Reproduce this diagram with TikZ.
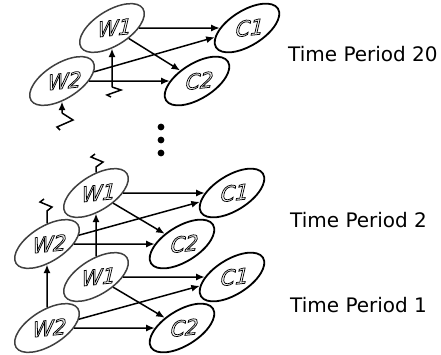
\documentclass[tikz,border=0pt]{standalone}
\usepackage{fontspec}
\setmainfont{DejaVu Sans}
\newfontfamily\varfont[FakeSlant=0.35]{DejaVu Sans}
\usetikzlibrary{shapes.geometric,arrows.meta}
% outlined (stroked) glyphs for the variable names
\newcommand\hollow[1]{\special{pdf:literal direct 1 Tr 0.75 w}#1\special{pdf:literal direct 0 Tr}}
% one tilted ellipse plus its label
\newcommand\varnode[5]{%
  \node[#1] (#2) at (#3) {};
  \node[vartext] (#2-txt) at (#2.center) {\hollow{#4}};}
\begin{document}
\begin{tikzpicture}[x=1pt,y=-1pt,
  wnode/.style={ellipse, draw=black!75, line width=1.5pt, rotate=32,
    minimum width=73pt, minimum height=35pt, inner sep=0pt},
  cnode/.style={ellipse, draw=black, line width=1.8pt, rotate=32,
    minimum width=73pt, minimum height=35pt, inner sep=0pt},
  vartext/.style={font=\varfont\fontsize{21}{21}\selectfont, inner sep=0pt, rotate=6},
  link/.style={line width=1.5pt, -{Latex[length=8.5pt,width=7pt]}},
  bolt/.style={line width=1.5pt, line join=miter},
  tlabel/.style={font=\fontsize{20}{20}\selectfont, anchor=west, inner sep=0pt}]
\useasboundingbox (0,0) rectangle (441,354);

% time period 20
\varnode{wnode}{w1-20}{112,28}{W1}{}
\varnode{wnode}{w2-20}{62,81}{W2}{}
\varnode{cnode}{c1-20}{247,28}{C1}{}
\varnode{cnode}{c2-20}{197,81}{C2}{}
% time period 2
\varnode{wnode}{w1-2}{96,193}{W1}{}
\varnode{wnode}{w2-2}{47,244}{W2}{}
\varnode{cnode}{c1-2}{232,193}{C1}{}
\varnode{cnode}{c2-2}{182,244}{C2}{}
% time period 1
\varnode{wnode}{w1-1}{96,277}{W1}{}
\varnode{wnode}{w2-1}{47,328}{W2}{}
\varnode{cnode}{c1-1}{232,277}{C1}{}
\varnode{cnode}{c2-1}{182,328}{C2}{}

% arcs inside each period
\foreach \g in {20,2,1} {
  \draw[link] (w1-\g) -- (c1-\g);
  \draw[link] (w1-\g) -- (c2-\g);
  \draw[link] (w2-\g) -- (c1-\g);
  \draw[link] (w2-\g) -- (c2-\g);
}

% arcs from period 1 to period 2
\draw[link] (w1-1) -- (w1-2);
\draw[link] (w2-1) -- (w2-2);

% carried-over inputs into period 20
\coordinate (in1) at (112,87);
\coordinate (in2) at (62,113);
\draw[bolt] (in1) -- ++(9,3) -- ++(-14,5) -- ++(4,2);
\draw[link] (in1) -- (w1-20);
\draw[bolt] (in2) -- ++(11,7) -- ++(-16,7) -- ++(3,3);
\draw[link] (in2) -- (w2-20);

% outputs leaving period 2
\coordinate (out1) at (96,167);
\coordinate (out2) at (47,211);
\draw[bolt] (w1-2) -- (out1) -- ++(7,-5) -- ++(-12,-5) -- ++(4,-3);
\draw[bolt] (w2-2) -- (out2) -- ++(5,-4) -- ++(-12,-5) -- ++(4,-3);

% ellipsis between periods
\foreach \yy in {127,140,153}
  \fill (161,\yy) circle[radius=3.4pt];

\node[tlabel] (p20) at (288,54.5) {Time Period 20};
\node[tlabel] (p2) at (290,220) {Time Period 2};
\node[tlabel] (p1) at (290,305) {Time Period 1};
\end{tikzpicture}
\end{document}
